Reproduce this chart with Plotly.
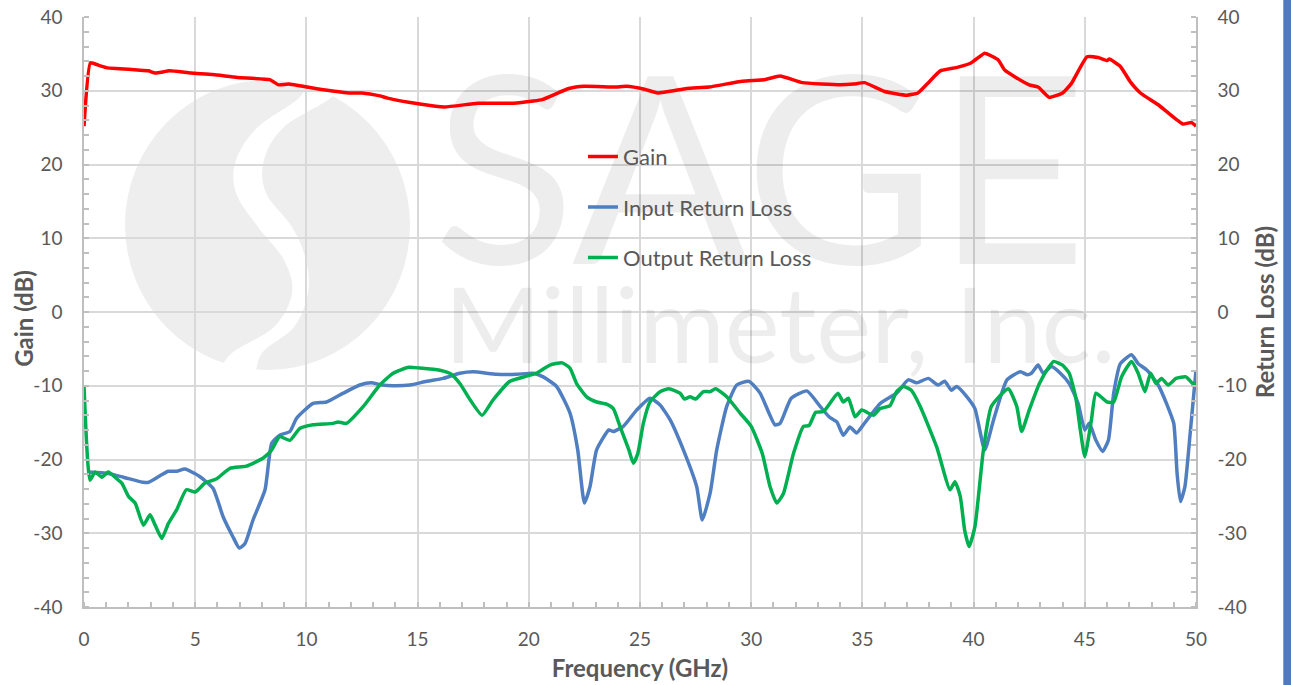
import plotly.graph_objects as go

# ---------------- data ----------------
gain_freq = [0, 0.29, 0.7, 1.04, 1.6, 2.4, 2.9, 3.2, 3.85, 4.8, 5.8, 6.9, 8.35, 8.75, 9.2, 10.4, 11.9, 12.5,
             13.3, 13.65, 15.1, 16.2, 17.7, 19.3, 20.2, 20.6, 21.8, 22.5, 23.9, 24.4, 25.2, 25.8, 27.1, 28.1,
             29.6, 30.6, 31.3, 32.3, 34.0, 34.6, 35.1, 36.0, 37.0, 37.5, 38.0, 38.5, 39.3, 39.9, 40.5, 41.1,
             41.4, 41.9, 42.5, 42.9, 43.4, 44.0, 44.4, 45.1, 45.6, 46.0, 46.1, 46.6, 47.05, 47.5, 48.3, 49.4,
             49.8, 50.0]
gain_db = [25.2, 33.8, 33.4, 33.1, 33.0, 32.8, 32.7, 32.4, 32.7, 32.4, 32.2, 31.8, 31.5, 30.8, 30.9, 30.3, 29.7, 29.7,
           29.3, 29.0, 28.2, 27.8, 28.3, 28.3, 28.6, 28.8, 30.3, 30.6, 30.5, 30.6, 30.2, 29.7, 30.3, 30.5,
           31.3, 31.5, 32.0, 31.1, 30.8, 30.9, 31.1, 29.9, 29.4, 29.7, 31.2, 32.7, 33.2, 33.8, 35.1, 34.2,
           32.8, 31.8, 30.8, 30.5, 29.1, 29.7, 31.0, 34.6, 34.5, 34.1, 34.3, 33.3, 31.2, 29.7, 28.1, 25.5,
           25.7, 25.2]

irl_freq = [0.2, 1.09, 1.77, 2.67, 2.9, 3.42, 3.79, 4.17, 4.54, 5.2, 5.8, 6.26, 6.7, 6.98, 7.24, 7.6, 8.14, 8.44,
            8.8, 9.26, 9.56, 10.3, 10.9, 11.66, 12.4, 12.9, 13.4, 13.9, 14.66, 15.4, 16.15, 16.9, 17.5, 18.56,
            19.46, 20.2, 20.65, 21.25, 21.85, 22.2, 22.5, 22.75, 23.05, 23.6, 23.8, 24.25, 24.85, 25.45, 25.9,
            26.35, 26.95, 27.55, 27.8, 28.15, 28.45, 28.9, 29.35, 29.9, 30.4, 31.07, 31.3, 31.8, 32.5, 33.1,
            33.5, 33.85, 34.14, 34.44, 34.74, 35.04, 35.8, 36.54, 37.06, 37.44, 37.96, 38.4, 38.7, 39.0, 39.24,
            39.7, 40.06, 40.5, 40.9, 41.5, 42.1, 42.4, 42.6, 42.9, 43.13, 43.5, 43.9, 44.3, 44.7, 45.0, 45.2,
            45.5, 45.8, 46.06, 46.3, 46.6, 47.1, 47.4, 47.8, 48.3, 48.7, 49.0, 49.15, 49.3, 49.5, 49.74, 50.0]
irl_db = [-21.7, -21.9, -22.4, -23.1, -23.1, -22.2, -21.6, -21.6, -21.3, -22.3, -23.9, -27.8, -30.5, -32.0, -31.4,
          -28.2, -24.1, -17.8, -16.7, -16.2, -14.4, -12.4, -12.2, -11.0, -9.9, -9.6, -9.9, -10.0, -9.9, -9.4,
          -9.0, -8.3, -8.1, -8.45, -8.45, -8.3, -8.8, -10.1, -13.7, -18.7, -25.9, -23.7, -18.7, -16.0, -16.2,
          -15.5, -13.3, -11.7, -12.6, -14.6, -18.7, -23.7, -28.2, -24.6, -18.7, -12.8, -9.9, -9.4, -11.0,
          -15.3, -15.1, -11.7, -10.7, -12.8, -14.2, -14.9, -16.7, -15.6, -16.4, -15.3, -12.4, -11.0, -9.2,
          -9.6, -9.0, -9.9, -9.4, -10.6, -10.1, -11.5, -13.1, -18.7, -14.6, -9.2, -8.1, -8.5, -8.3, -7.2,
          -8.3, -7.4, -8.3, -9.7, -12.4, -16.0, -15.1, -17.4, -18.9, -17.4, -11.0, -7.0, -5.8, -7.0, -7.9,
          -9.9, -12.6, -15.1, -21.9, -25.7, -23.7, -16.4, -7.9]

orl_freq = [0, 0.27, 0.5, 0.8, 1.09, 1.47, 1.7, 2.0, 2.3, 2.67, 2.97, 3.2, 3.5, 3.79, 4.17, 4.6, 5.0, 5.44, 5.97,
            6.56, 7.3, 8.06, 8.44, 8.8, 9.26, 9.7, 10.3, 11.2, 11.43, 11.8, 12.56, 13.3, 13.9, 14.6, 15.1, 16.0,
            16.5, 16.9, 17.36, 17.9, 18.4, 19.15, 19.9, 20.35, 20.95, 21.5, 21.85, 22.15, 22.6, 23.05, 23.5,
            23.8, 24.1, 24.5, 24.7, 24.9, 25.15, 25.45, 25.9, 26.3, 26.8, 27.0, 27.25, 27.5, 27.85, 28.15, 28.4,
            28.9, 29.5, 30.0, 30.5, 30.85, 31.15, 31.45, 31.9, 32.35, 32.6, 32.9, 33.25, 33.9, 34.14, 34.37,
            34.67, 34.97, 35.5, 35.8, 36.24, 36.54, 36.84, 37.2, 37.6, 38.34, 38.94, 39.16, 39.4, 39.6, 39.8,
            40.06, 40.44, 40.8, 41.56, 41.94, 42.16, 42.5, 42.96, 43.4, 43.6, 44.0, 44.3, 44.6, 44.8, 45.0,
            45.3, 45.5, 46.0, 46.3, 46.65, 47.1, 47.4, 47.7, 47.96, 48.2, 48.45, 48.75, 49.1, 49.55, 49.85, 50.0]
orl_db = [-9.9, -22.8, -21.7, -22.4, -21.7, -22.6, -23.2, -25.0, -25.9, -28.9, -27.5, -28.9, -30.7, -28.7, -26.8,
          -24.1, -24.4, -23.2, -22.6, -21.2, -20.9, -19.8, -18.7, -16.9, -17.4, -15.8, -15.3, -15.1, -14.9,
          -15.1, -12.8, -9.9, -8.3, -7.5, -7.6, -7.9, -8.4, -9.7, -11.9, -14.0, -11.9, -9.4, -8.7, -8.3, -7.2,
          -6.9, -7.6, -9.7, -11.5, -12.2, -12.5, -13.1, -15.5, -18.7, -20.5, -19.2, -15.1, -12.2, -10.8, -10.4,
          -11.0, -11.8, -11.5, -11.8, -10.8, -10.8, -10.4, -11.5, -13.7, -15.5, -19.2, -23.7, -25.9, -24.6,
          -19.2, -15.5, -15.4, -13.6, -13.5, -11.0, -12.2, -11.7, -14.2, -13.3, -14.0, -13.1, -12.7, -10.8,
          -10.1, -10.6, -12.8, -18.3, -24.1, -23.0, -25.0, -29.6, -31.8, -29.1, -18.7, -12.8, -10.4, -12.8,
          -16.2, -13.3, -9.7, -7.4, -6.7, -7.2, -8.3, -11.7, -16.0, -19.6, -14.6, -11.0, -12.2, -12.2, -8.8,
          -6.7, -8.3, -10.8, -8.3, -9.7, -9.0, -9.9, -9.0, -8.8, -9.7, -9.7]

series_names = ["Gain", "Input Return Loss", "Output Return Loss"]
x_ticks = [0, 5, 10, 15, 20, 25, 30, 35, 40, 45, 50]
y_ticks = [-40, -30, -20, -10, 0, 10, 20, 30, 40]
y_tick_labels = ["-40", "-30", "-20", "-10", "0", "10", "20", "30", "40"]

# ---------------- styling ----------------
FONT = "Lato"
TXT = "#595959"
GRID = "#d9d9d9"
AXIS = "#bfbfbf"
WM = "rgba(0,0,0,0.07)"
WM_SOLID = "#eeeeee"

fig = go.Figure()

# watermark text (drawn first so the curves are on top)
fig.add_trace(go.Scatter(x=[30.4], y=[15.4], mode="text", text=["SAGE"], hoverinfo="skip",
                         showlegend=False, textposition="middle center",
                         textfont=dict(family=FONT, size=262, color=WM)))
fig.add_trace(go.Scatter(x=[31.3], y=[-3.4], mode="text", text=["Millimeter, Inc."], hoverinfo="skip",
                         showlegend=False, textposition="middle center",
                         textfont=dict(family=FONT, size=104, color=WM)))

line_w = 3.5
fig.add_trace(go.Scatter(x=gain_freq, y=gain_db, name=series_names[0], mode="lines",
                         line=dict(color="#ff0000", width=line_w, shape="spline", smoothing=0.4),
                         legendgroup="g1"))
fig.add_trace(go.Scatter(x=irl_freq, y=irl_db, name=series_names[1], mode="lines", yaxis="y2",
                         line=dict(color="#4f7ec1", width=line_w, shape="spline", smoothing=0.5),
                         legendgroup="g2"))
fig.add_trace(go.Scatter(x=orl_freq, y=orl_db, name=series_names[2], mode="lines", yaxis="y2",
                         line=dict(color="#00b050", width=line_w, shape="spline", smoothing=0.5),
                         legendgroup="g3"))


# pixel -> data helper for the logo watermark only
def px2d(px, py):
    return (px - 84) / 22.24, 40 - (py - 17) / 7.375


def smooth_seg(points):
    """Catmull-Rom through pixel points -> list of cubic bezier commands (data coords)."""
    pts = [px2d(a, b) for a, b in points]
    cmds = []
    for i in range(len(pts) - 1):
        p0 = pts[i - 1] if i > 0 else pts[i]
        p1 = pts[i]
        p2 = pts[i + 1]
        p3 = pts[i + 2] if i + 2 < len(pts) else pts[i + 1]
        c1 = (p1[0] + (p2[0] - p0[0]) / 6, p1[1] + (p2[1] - p0[1]) / 6)
        c2 = (p2[0] - (p3[0] - p1[0]) / 6, p2[1] - (p3[1] - p1[1]) / 6)
        cmds.append(f"C {c1[0]:.3f},{c1[1]:.3f} {c2[0]:.3f},{c2[1]:.3f} {p2[0]:.3f},{p2[1]:.3f}")
    return pts[0], cmds


cx0, cy0 = px2d(125, 80)
cx1, cy1 = px2d(410, 370)
shapes = [
    dict(type="circle", xref="x", yref="y", x0=cx0, x1=cx1, y0=cy1, y1=cy0,
         fillcolor=WM_SOLID, line=dict(width=0), layer="below"),
]
band_left = [(310, 72), (300, 97), (258, 127), (236, 160), (236, 193), (258, 227), (284, 260),
             (292, 293), (274, 327), (232, 353), (215, 378)]
band_right = [(255, 380), (262, 353), (294, 327), (308, 293), (306, 260), (292, 227), (266, 193),
              (264, 160), (284, 127), (332, 97), (350, 72)]
s1, c_left = smooth_seg(band_left)
s2, c_right = smooth_seg(band_right)
band_path = (f"M {s1[0]:.3f},{s1[1]:.3f} " + " ".join(c_left) +
             f" L {s2[0]:.3f},{s2[1]:.3f} " + " ".join(c_right) + " Z")
shapes.append(dict(type="path", xref="x", yref="y", path=band_path,
                   fillcolor="white", line=dict(width=0), layer="below"))
# blue bar at the right edge of the page
shapes.append(dict(type="rect", xref="paper", yref="paper", x0=1.0785, x1=1.1, y0=-0.16, y1=1.06,
                   fillcolor="#4f7ac0", line=dict(width=0), layer="above"))

axis_common = dict(
    showline=True, linecolor=AXIS, linewidth=1.5,
    tickfont=dict(family=FONT, size=19, color=TXT),
    zeroline=False, ticks="", automargin=False,
)
title_font = dict(family=FONT, size=24, color=TXT)

fig.update_layout(
    width=1291, height=685,
    margin=dict(l=84, r=95, t=17, b=78, autoexpand=False),
    paper_bgcolor="white", plot_bgcolor="white",
    font=dict(family=FONT, color=TXT),
    shapes=shapes,
    annotations=[dict(text="<b>Gain (dB)</b>", xref="paper", yref="paper", x=-0.054, y=0.49,
                      xanchor="center", yanchor="middle", textangle=-90, showarrow=False,
                      font=title_font)],
    showlegend=True,
    legend=dict(x=0.4487, y=0.799, xanchor="left", yanchor="top", bgcolor="rgba(0,0,0,0)",
                font=dict(family=FONT, size=22, color=TXT), tracegroupgap=19,
                traceorder="grouped"),
    xaxis=dict(range=[0, 50], tickvals=x_ticks, showgrid=True, gridcolor=GRID, gridwidth=1.5,
               ticklabelstandoff=14,
               minor=dict(dtick=1, ticks="inside", ticklen=5, tickcolor=AXIS, tickwidth=1.5, showgrid=False),
               title=dict(text="<b>Frequency (GHz)</b>", font=title_font, standoff=12),
               **axis_common),
    yaxis=dict(range=[-40, 40], tickvals=y_ticks, ticktext=y_tick_labels, showgrid=True,
               gridcolor=GRID, gridwidth=1.5, ticklabelstandoff=16,
               minor=dict(dtick=2, ticks="inside", ticklen=5, tickcolor=AXIS, tickwidth=1.5, showgrid=False),
               **axis_common),
    yaxis2=dict(range=[-40, 40], tickvals=y_ticks, ticktext=y_tick_labels, overlaying="y", side="right",
                showgrid=False, ticklabelstandoff=16,
                minor=dict(dtick=2, ticks="inside", ticklen=5, tickcolor=AXIS, tickwidth=1.5, showgrid=False),
                title=dict(text="<b>Return Loss (dB)</b>", font=title_font, standoff=12),
                **axis_common),
)

fig.write_html("out.html", config={"displayModeBar": False},
               post_script="document.body.style.margin='0px';document.body.style.padding='0px';"
                           "document.documentElement.style.overflow='hidden';")
